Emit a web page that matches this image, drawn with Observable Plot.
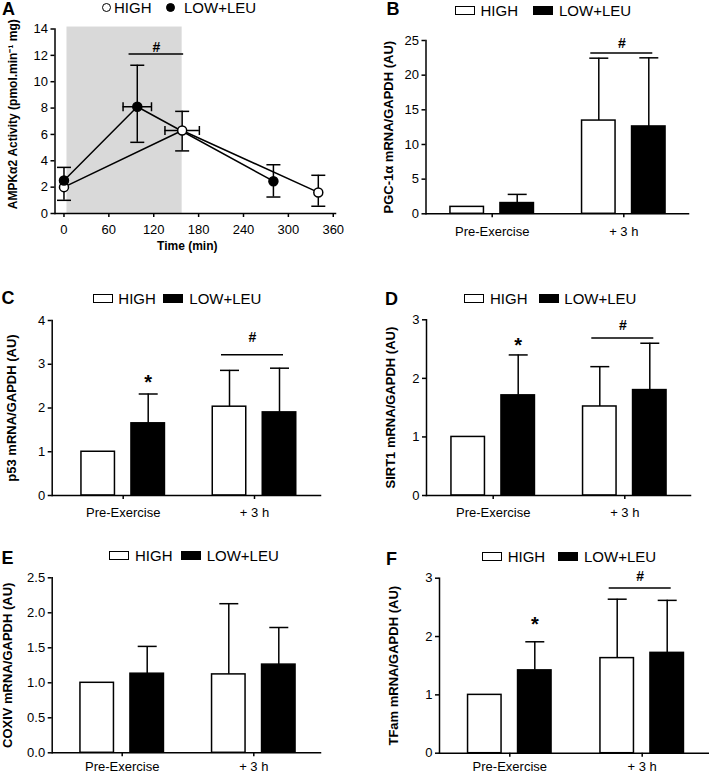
<!DOCTYPE html>
<html><head><meta charset="utf-8">
<script src="https://cdn.jsdelivr.net/npm/d3@7"></script>
<script src="https://cdn.jsdelivr.net/npm/@observablehq/plot@0.6"></script>
<style>
body{margin:0;background:#fff;}
#fig{position:relative;width:709px;height:775px;overflow:hidden;font-family:"Liberation Sans",Arial,sans-serif;color:#000;}
#fig svg{background:transparent !important;}
.letter{position:absolute;font-weight:bold;font-size:18px;line-height:18px;}
.ltxt{position:absolute;font-size:15px;line-height:15px;white-space:nowrap;}
.sw{position:absolute;box-sizing:border-box;width:20px;height:9px;border:1.5px solid #000;}
.circ{position:absolute;box-sizing:border-box;width:9px;height:9px;border:1.5px solid #000;border-radius:50%;}
</style></head><body><div id="fig"></div>
<script>
// ---------------- data ----------------
const groups = ["HIGH", "LOW+LEU"];
const timepoints = ["Pre-Exercise", "+ 3 h"];

// Panel A: AMPKα2 activity over time
const timeTicks = [0, 60, 120, 180, 240, 300, 360];
const ampkTicks = [0, 2, 4, 6, 8, 10, 12, 14];
const highTime = [0, 158, 340];
const highAct = [2.0, 6.3, 1.6];
const highActLo = [1.0, 4.75, 0.55];
const highActHi = [2.0, 7.75, 2.9];
const highTimeLo = [0, 135, 340];
const highTimeHi = [0, 181, 340];
const lowTime = [0, 98, 280];
const lowAct = [2.5, 8.1, 2.45];
const lowActLo = [2.5, 5.4, 1.25];
const lowActHi = [3.5, 11.25, 3.7];
const lowTimeLo = [0, 79, 280];
const lowTimeHi = [0, 117, 280];
const exerciseWindow = {start: 4, end: 158, bottom: 0, top: 14.15};
const sigA = {x1: 87, x2: 160, y: 12.1, ty: 12.6, label: "#"};

// Panel B: PGC-1α
const pgcHigh = [1.0, 13.45], pgcHighSD = [0, 9.0];
const pgcLow = [1.55, 12.6], pgcLowSD = [1.25, 9.9];
const pgcTicks = [0, 5, 10, 15, 20, 25];
// Panel C: p53
const p53High = [1.0, 2.03], p53HighSD = [0, 0.83];
const p53Low = [1.65, 1.9], p53LowSD = [0.67, 1.01];
const p53Ticks = [0, 1, 2, 3, 4];
// Panel D: SIRT1
const sirtHigh = [1.0, 1.52], sirtHighSD = [0, 0.68];
const sirtLow = [1.71, 1.80], sirtLowSD = [0.69, 0.80];
const sirtTicks = [0, 1, 2, 3];
// Panel E: COXIV
const coxHigh = [1.0, 1.12], coxHighSD = [0, 1.01];
const coxLow = [1.13, 1.26], coxLowSD = [0.39, 0.53];
const coxTicks = [0, 0.5, 1.0, 1.5, 2.0, 2.5];
// Panel F: TFam
const tfamHigh = [1.0, 1.63], tfamHighSD = [0, 1.01];
const tfamLow = [1.42, 1.72], tfamLowSD = [0.49, 0.90];
const tfamTicks = [0, 1, 2, 3];

// ---------------- layout helpers ----------------
const fig = document.getElementById("fig");
const FONT = "Liberation Sans, Arial, Helvetica, sans-serif";
function place(el, box) {
  el.style.position = "absolute"; el.style.left = box.x + "px"; el.style.top = box.y + "px";
  fig.appendChild(el);
}
function margins(box, f) {
  return {marginLeft: f.l - box.x, marginRight: box.x + box.w - f.r, marginTop: f.t - box.y, marginBottom: box.y + box.h - f.b};
}
const hCap = w => ({draw(ctx) { ctx.moveTo(-w / 2, 0); ctx.lineTo(w / 2, 0); }});
const vCap = h => ({draw(ctx) { ctx.moveTo(0, -h / 2); ctx.lineTo(0, h / 2); }});
const intFmt = d3.format("d");

// ---------------- Panel A ----------------
(function () {
  const box = {x: 0, y: 0, w: 350, h: 262};
  const frame = {l: 54.5, r: 335, t: 28.5, b: 213};
  const mk = (g, t, v, lo, hi, tlo, thi) => t.map((d, i) => ({g, t: d, v: v[i], lo: lo[i], hi: hi[i], tlo: tlo[i], thi: thi[i]}));
  const rows = [
    ...mk("HIGH", highTime, highAct, highActLo, highActHi, highTimeLo, highTimeHi),
    ...mk("LOW+LEU", lowTime, lowAct, lowActLo, lowActHi, lowTimeLo, lowTimeHi)
  ];
  const capsV = rows.flatMap(d => [d.lo < d.v ? {t: d.t, y: d.lo} : null, d.hi > d.v ? {t: d.t, y: d.hi} : null]).filter(Boolean);
  const capsH = rows.filter(d => d.tlo < d.thi).flatMap(d => [{t: d.tlo, y: d.v}, {t: d.thi, y: d.v}]);
  const svg = Plot.plot({
    width: box.w, height: box.h, ...margins(box, frame),
    style: {fontFamily: FONT, background: "transparent", overflow: "visible"},
    x: {domain: [-12, 363]},
    y: {domain: [0, 14]},
    marks: [
      Plot.rect([exerciseWindow], {x1: "start", x2: "end", y1: "bottom", y2: "top", fill: "#d9d9d9"}),
      Plot.line(rows, {x: "t", y: "v", z: "g", stroke: "black", strokeWidth: 1.5}),
      Plot.ruleX(rows.filter(d => d.hi > d.lo), {x: "t", y1: "lo", y2: "hi", stroke: "black", strokeWidth: 1.5}),
      Plot.ruleY(rows.filter(d => d.thi > d.tlo), {y: "v", x1: "tlo", x2: "thi", stroke: "black", strokeWidth: 1.5}),
      Plot.dot(capsV, {x: "t", y: "y", symbol: hCap(14), stroke: "black", strokeWidth: 1.5, fill: "none"}),
      Plot.dot(capsH, {x: "t", y: "y", symbol: vCap(9), stroke: "black", strokeWidth: 1.5, fill: "none"}),
      Plot.dot(rows.filter(d => d.g === "HIGH"), {x: "t", y: "v", r: 4.5, fill: "white", stroke: "black", strokeWidth: 1.5}),
      Plot.dot(rows.filter(d => d.g === "LOW+LEU"), {x: "t", y: "v", r: 4.5, fill: "black", stroke: "black", strokeWidth: 1.5}),
      Plot.ruleY([sigA], {y: "y", x1: "x1", x2: "x2", stroke: "black", strokeWidth: 1.5}),
      Plot.text([sigA], {x: d => (d.x1 + d.x2) / 2, y: "ty", text: "label", fontSize: 14, fontWeight: "bold"}),
      Plot.axisY({ticks: ampkTicks, tickFormat: intFmt, tickSize: 4, tickPadding: 3, fontSize: 13, strokeWidth: 1.5, label: null}),
      Plot.axisX({ticks: timeTicks, tickFormat: intFmt, tickSize: 4, tickPadding: 7, fontSize: 13, strokeWidth: 1.5, label: null}),
      Plot.frame({anchor: "left", strokeWidth: 1.5}),
      Plot.frame({anchor: "bottom", strokeWidth: 1.5}),
      Plot.text(["AMPKα2 Activity (pmol.min⁻¹ mg)"], {frameAnchor: "left", textAnchor: "middle", text: d => d, rotate: -90, dx: -41.5, dy: -7, fontSize: 12, fontWeight: "bold"}),
      Plot.text(["Time (min)"], {frameAnchor: "bottom", textAnchor: "middle", text: d => d, dx: -8, dy: 36, fontSize: 12, fontWeight: "bold"})
    ]
  });
  place(svg, box);
})();

// ---------------- bar panels ----------------
function barPanel(p) {
  const half = (p.ticks[1] - p.ticks[0]) / 2;
  const range = [p.ticks[0] - p.box.x - half, p.ticks[1] - p.box.x + half];
  const off = 25, bw = 33.5;
  const inNear = half - off - bw / 2, inFar = half + off - bw / 2;
  const rows = timepoints.flatMap((t, i) => [
    {t, g: "HIGH", v: p.high[i], hi: p.high[i] + p.highSD[i]},
    {t, g: "LOW+LEU", v: p.low[i], hi: p.low[i] + p.lowSD[i]}
  ]);
  const H = rows.filter(d => d.g === "HIGH"), L = rows.filter(d => d.g === "LOW+LEU");
  const marks = [
    Plot.ruleX(H.filter(d => d.hi > d.v), {x: "t", y1: "v", y2: "hi", dx: -off, stroke: "black", strokeWidth: 1.5}),
    Plot.ruleX(L.filter(d => d.hi > d.v), {x: "t", y1: "v", y2: "hi", dx: off, stroke: "black", strokeWidth: 1.5}),
    Plot.dot(H.filter(d => d.hi > d.v), {x: "t", y: "hi", dx: -off, symbol: hCap(19), stroke: "black", strokeWidth: 1.5, fill: "none"}),
    Plot.dot(L.filter(d => d.hi > d.v), {x: "t", y: "hi", dx: off, symbol: hCap(19), stroke: "black", strokeWidth: 1.5, fill: "none"}),
    Plot.barY(H, {x: "t", y: "v", fill: "white", stroke: "black", strokeWidth: 1.5, insetLeft: inNear, insetRight: inFar}),
    Plot.barY(L, {x: "t", y: "v", fill: "black", stroke: "black", strokeWidth: 1.5, insetLeft: inFar, insetRight: inNear}),
    Plot.axisY({ticks: p.yTicks, tickFormat: p.fmt || intFmt, tickSize: 4, tickPadding: 3, fontSize: 13, strokeWidth: 1.5, label: null}),
    Plot.axisX({tickSize: 4, tickPadding: p.xPad, fontSize: 13, strokeWidth: 1.5, label: null}),
    Plot.frame({anchor: "left", strokeWidth: 1.5}),
    Plot.frame({anchor: "bottom", strokeWidth: 1.5}),
    Plot.text([p.label], {frameAnchor: "left", textAnchor: "middle", text: d => d, rotate: -90, dx: p.labelDx, fontSize: 13, fontWeight: "bold"})
  ];
  if (p.star != null) {
    marks.push(Plot.text([{t: timepoints[0], y: p.star}], {x: "t", y: "y", text: () => "*", dx: off, dy: 4, fontSize: 20, fontWeight: "bold"}));
  }
  if (p.hash != null) {
    marks.push(Plot.tickY([{t: timepoints[1], y: p.hash}], {x: "t", y: "y", insetLeft: half - 33, insetRight: half - 29, stroke: "black", strokeWidth: 1.5}));
    marks.push(Plot.text([{t: timepoints[1], y: p.hashText}], {x: "t", y: "y", text: () => "#", dx: -2, fontSize: 14, fontWeight: "bold"}));
  }
  const svg = Plot.plot({
    width: p.box.w, height: p.box.h, ...margins(p.box, p.frame),
    style: {fontFamily: FONT, background: "transparent", overflow: "visible"},
    x: {type: "band", domain: timepoints, range, padding: 0, round: false},
    y: {domain: p.yDomain},
    marks
  });
  place(svg, p.box);
}

barPanel({box: {x: 355, y: 0, w: 354, h: 262}, frame: {l: 425.5, r: 688, t: 40, b: 213.3}, ticks: [491.7, 623.3], xPad: 9,
  yDomain: [0, 25], yTicks: pgcTicks, label: "PGC-1α mRNA/GAPDH (AU)", labelDx: -37.5,
  high: pgcHigh, highSD: pgcHighSD, low: pgcLow, lowSD: pgcLowSD, star: null, hash: 23.2, hashText: 24.6});
barPanel({box: {x: 0, y: 262, w: 350, h: 258}, frame: {l: 51.7, r: 320, t: 320, b: 495}, ticks: [122.7, 254], xPad: 8,
  yDomain: [0, 4], yTicks: p53Ticks, label: "p53 mRNA/GAPDH (AU)", labelDx: -40,
  high: p53High, highSD: p53HighSD, low: p53Low, lowSD: p53LowSD, star: 2.67, hash: 3.22, hashText: 3.6});
barPanel({box: {x: 355, y: 262, w: 354, h: 258}, frame: {l: 426, r: 690, t: 319.3, b: 495}, ticks: [492.7, 624.3], xPad: 8,
  yDomain: [0, 3], yTicks: sirtTicks, label: "SIRT1 mRNA/GAPDH (AU)", labelDx: -36,
  high: sirtHigh, highSD: sirtHighSD, low: sirtLow, lowSD: sirtLowSD, star: 2.63, hash: 2.69, hashText: 2.9});
barPanel({box: {x: 0, y: 520, w: 350, h: 255}, frame: {l: 51.7, r: 320, t: 577.3, b: 752.3}, ticks: [121.7, 253.3], xPad: 5,
  yDomain: [0, 2.5], yTicks: coxTicks, fmt: d3.format(".1f"), label: "COXIV mRNA/GAPDH (AU)", labelDx: -44.7,
  high: coxHigh, highSD: coxHighSD, low: coxLow, lowSD: coxLowSD, star: null, hash: null});
barPanel({box: {x: 355, y: 520, w: 354, h: 255}, frame: {l: 439, r: 708, t: 577.7, b: 752.7}, ticks: [509.3, 641.7], xPad: 5,
  yDomain: [0, 3], yTicks: tfamTicks, label: "TFam mRNA/GAPDH (AU)", labelDx: -45.7,
  high: tfamHigh, highSD: tfamHighSD, low: tfamLow, lowSD: tfamLowSD, star: 2.28, hash: 2.83, hashText: 3.03});

// ---------------- panel letters & legends (HTML) ----------------
const letters = [["A", 2, 9], ["B", 386.5, 9], ["C", 1.5, 298], ["D", 385, 299], ["E", 1.5, 557.5], ["F", 386, 559]];
letters.forEach(([t, x, y]) => {
  const d = document.createElement("div"); d.className = "letter"; d.textContent = t;
  d.style.left = x + "px"; d.style.top = (y - 9) + "px"; fig.appendChild(d);
});
const legendSpots = [
  {kind: "circle", y: 7, items: [[101.5, 114], [166, 184]]},
  {kind: "rect", y: 10.5, items: [[455, 480.5], [532.5, 559]]},
  {kind: "rect", y: 298.3, items: [[93.3, 118.3], [163.3, 189.3]]},
  {kind: "rect", y: 298.3, items: [[464, 490], [539, 564.3]]},
  {kind: "rect", y: 555, items: [[109.3, 135], [180.7, 206.7]]},
  {kind: "rect", y: 556, items: [[481.7, 507.7], [558.3, 584]]}
];
legendSpots.forEach(L => {
  L.items.forEach(([sx, tx], i) => {
    const s = document.createElement("div");
    s.className = L.kind === "circle" ? "circ" : "sw";
    s.style.left = sx + "px"; s.style.top = (L.y - 4.5) + "px";
    if (i === 1) s.style.background = "#000";
    fig.appendChild(s);
    const t = document.createElement("div"); t.className = "ltxt"; t.textContent = groups[i];
    t.style.left = tx + "px"; t.style.top = (L.y - 7.5) + "px";
    fig.appendChild(t);
  });
});
</script></body></html>
